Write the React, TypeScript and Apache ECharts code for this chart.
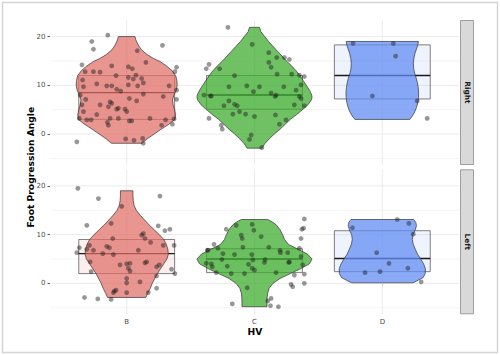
import React, { useEffect, useRef } from 'react';
import * as echarts from 'echarts';

const categories = ['B', 'C', 'D'];
const facets = ['Right', 'Left'];
const yTickValues = [0, 10, 20];
const yGridValues = [-5, 0, 5, 10, 15, 20];
const xTickValues = [1, 2, 3];

const violinFills = ['rgba(225,110,102,0.72)', 'rgba(63,172,48,0.75)', 'rgba(99,140,243,0.75)'];
const boxFills = ['rgba(225,110,102,0.1)', 'rgba(63,172,48,0.1)', 'rgba(99,140,243,0.1)'];

// box stats: [q1, median, q3]
const boxRight = [
  [3.0, 8.5, 12.0],
  [5.1, 8.0, 12.0],
  [7.2, 12.0, 18.3],
];
const boxLeft = [
  [2.0, 6.1, 9.0],
  [2.2, 5.0, 7.1],
  [2.4, 5.1, 10.8],
];

// violin profiles: [value, half width in category units]
const violinRightB = [
  [20.0, 0.065], [19.3, 0.072], [18.3, 0.09], [17.3, 0.115], [16.3, 0.16], [15.5, 0.21],
  [14.9, 0.26], [14.0, 0.31], [13.0, 0.355], [12.0, 0.383], [11.0, 0.393], [10.0, 0.395],
  [9.0, 0.388], [8.0, 0.37], [7.0, 0.358], [6.0, 0.363], [5.0, 0.375], [4.0, 0.383],
  [3.0, 0.378], [2.0, 0.33], [1.0, 0.27], [0.0, 0.215], [-1.0, 0.16], [-1.9, 0.12],
];
const violinRightC = [
  [21.9, 0.039], [21.0, 0.05], [20.0, 0.08], [19.0, 0.11], [18.0, 0.145], [17.0, 0.18],
  [16.0, 0.215], [15.0, 0.25], [14.0, 0.29], [13.0, 0.325], [12.0, 0.355], [11.0, 0.38],
  [10.0, 0.405], [9.0, 0.43], [8.0, 0.448], [7.5, 0.45], [7.0, 0.445], [6.0, 0.418],
  [5.0, 0.375], [4.0, 0.33], [3.0, 0.28], [2.0, 0.24], [1.0, 0.2], [0.0, 0.155],
  [-1.0, 0.115], [-2.0, 0.08], [-2.9, 0.058],
];
const violinRightD = [
  [19.0, 0.283], [18.3, 0.278], [17.5, 0.268], [16.5, 0.255], [15.5, 0.247], [14.5, 0.243],
  [13.5, 0.245], [12.5, 0.253], [11.5, 0.265], [10.5, 0.275], [9.5, 0.281], [8.5, 0.284],
  [7.5, 0.283], [6.5, 0.278], [5.5, 0.268], [4.5, 0.253], [3.7, 0.235], [3.0, 0.215],
];
const violinLeftB = [
  [19.0, 0.049], [18.0, 0.049], [17.0, 0.051], [16.0, 0.058], [15.0, 0.075], [14.0, 0.105],
  [13.0, 0.14], [12.0, 0.175], [11.0, 0.215], [10.0, 0.255], [9.0, 0.29], [8.0, 0.31],
  [7.0, 0.322], [6.0, 0.326], [5.0, 0.315], [4.0, 0.29], [3.0, 0.265], [2.0, 0.24],
  [1.0, 0.22], [0.0, 0.2], [-1.0, 0.185], [-2.0, 0.165], [-2.9, 0.15],
];
const violinLeftC = [
  [13.1, 0.104], [12.5, 0.145], [12.0, 0.17], [11.0, 0.2], [10.0, 0.22], [9.0, 0.235],
  [8.0, 0.265], [7.0, 0.34], [6.0, 0.415], [5.0, 0.45], [4.0, 0.43], [3.0, 0.36],
  [2.0, 0.28], [1.0, 0.2], [0.0, 0.145], [-1.0, 0.115], [-2.0, 0.103], [-3.0, 0.099],
  [-4.0, 0.098], [-4.8, 0.098],
];
const violinLeftD = [
  [13.1, 0.245], [12.5, 0.262], [11.8, 0.267], [11.0, 0.258], [10.0, 0.24], [9.0, 0.235],
  [8.0, 0.242], [7.0, 0.258], [6.0, 0.275], [5.0, 0.3], [4.0, 0.323], [3.0, 0.337],
  [2.0, 0.336], [1.2, 0.32], [0.5, 0.27], [0.1, 0.24],
];

// jittered points: [x offset from category, value]
const pointsRightB = [
  [-0.148, 20.3], [-0.273, 19.0], [-0.26, 17.4], [0.28, 18.2], [-0.35, 14.2], [-0.117, 14.0],
  [0.013, 13.8], [0.044, 13.4], [0.15, 14.7], [0.083, 17.1], [0.39, 13.7], [0.377, 12.8],
  [-0.325, 12.8], [-0.26, 12.8], [-0.208, 12.7], [-0.083, 12.0], [0.013, 11.6], [0.073, 12.1],
  [0.052, 11.3], [0.117, 11.4], [-0.345, 11.1], [-0.338, 9.7], [-0.234, 10.3], [-0.156, 9.9],
  [-0.117, 9.9], [-0.047, 8.8], [-0.078, 9.2], [0.013, 10.1], [0.086, 9.9], [0.13, 10.5],
  [0.332, 9.9], [0.39, 9.0], [0.13, 8.2], [-0.364, 8.0], [-0.32, 7.1], [-0.13, 6.6],
  [-0.117, 6.3], [0.021, 7.3], [0.078, 6.8], [0.286, 7.7], [0.39, 7.1], [-0.35, 6.0],
  [-0.208, 6.0], [-0.065, 5.3], [-0.078, 5.1], [-0.013, 5.1], [-0.143, 5.6], [-0.338, 4.6],
  [-0.234, 4.0], [-0.13, 3.2], [-0.065, 3.2], [0.0, 4.6], [0.039, 2.7], [-0.371, 3.2],
  [-0.312, 2.9], [-0.278, 2.9], [0.182, 3.2], [0.304, 2.9], [0.371, 3.1], [-0.151, 2.4],
  [-0.143, 1.8], [0.273, 1.8], [0.358, 2.0], [-0.008, -1.0], [0.057, -1.3], [0.125, -0.9],
  [0.13, -1.9], [-0.39, -1.6], [0.021, 2.7],
];
const pointsRightC = [
  [-0.208, 21.9], [-0.018, 18.4], [0.112, 16.7], [0.174, 15.7], [0.234, 15.7], [0.273, 15.3],
  [0.112, 14.7], [-0.356, 14.3], [-0.377, 13.4], [-0.273, 13.4], [0.13, 13.7], [-0.156, 12.0],
  [0.177, 12.3], [0.291, 12.3], [0.351, 12.1], [0.39, 11.8], [-0.2, 9.7], [-0.06, 9.9],
  [0.039, 9.7], [0.229, 9.7], [0.325, 9.0], [0.364, 10.1], [-0.008, 8.7], [-0.395, 8.0],
  [-0.345, 7.8], [-0.338, 7.8], [0.13, 8.4], [0.169, 8.0], [0.161, 7.7], [0.351, 7.7],
  [0.364, 7.3], [-0.156, 6.1], [-0.135, 5.8], [-0.239, 5.8], [-0.2, 6.8], [-0.117, 4.6],
  [-0.07, 4.1], [-0.169, 4.1], [0.0, 3.6], [0.164, 3.9], [0.312, 6.0], [0.39, 5.8],
  [-0.356, 3.2], [0.247, 2.9], [0.195, 2.0], [-0.26, 1.8], [-0.252, 1.0], [-0.026, -0.2],
  [-0.039, -1.1], [0.057, -2.8],
];
const pointsRightD = [
  [-0.229, 18.6], [0.086, 18.6], [0.104, 16.0], [-0.078, 7.8], [0.273, 6.8], [0.351, 3.2],
];
const pointsLeftB = [
  [-0.382, 19.5], [-0.221, 17.4], [0.26, 17.9], [-0.039, 15.8], [-0.312, 11.9], [-0.122, 12.3],
  [0.247, 11.8], [0.338, 11.1], [0.299, 10.8], [0.117, 9.9], [0.13, 10.2], [0.143, 9.2],
  [0.187, 8.4], [-0.109, 9.2], [-0.156, 7.6], [-0.135, 7.3], [-0.291, 7.8], [-0.371, 7.3],
  [-0.312, 7.0], [-0.39, 6.3], [-0.26, 6.8], [-0.187, 6.1], [0.091, 6.8], [-0.104, 5.9],
  [0.286, 7.8], [0.371, 7.8], [-0.286, 4.4], [0.026, 4.1], [0.156, 4.4], [0.143, 4.2],
  [-0.052, 3.8], [0.0, 4.0], [0.013, 3.1], [0.026, 2.5], [0.234, 3.4], [0.255, 3.8],
  [0.351, 2.9], [0.377, 2.0], [0.234, 1.5], [-0.278, 2.4], [0.0, 1.0], [0.0, 0.1],
  [0.104, 0.3], [0.234, -1.0], [0.169, -1.9], [-0.104, -1.9], [-0.083, -1.4], [-0.096, -1.6],
  [0.0, -1.9], [-0.33, -2.9], [-0.226, -3.2], [-0.122, -3.3],
];
const pointsLeftC = [
  [-0.018, 12.1], [-0.221, 11.1], [-0.143, 11.9], [0.39, 13.2], [0.384, 11.3], [0.371, 11.1],
  [0.364, 9.2], [-0.104, 9.9], [-0.096, 9.2], [0.052, 9.6], [-0.005, 10.9], [-0.317, 8.0],
  [-0.364, 6.8], [-0.286, 7.2], [-0.247, 6.1], [-0.156, 5.9], [-0.091, 7.4], [-0.021, 5.9],
  [0.112, 7.4], [0.2, 6.8], [0.203, 6.3], [0.26, 6.3], [0.351, 7.2], [0.364, 5.5],
  [-0.013, 4.8], [0.078, 4.3], [0.273, 4.4], [0.268, 4.3], [-0.377, 4.1], [-0.338, 4.0],
  [-0.33, 3.4], [-0.255, 4.9], [-0.213, 3.5], [-0.047, 3.9], [-0.018, 3.1], [0.0, 2.7],
  [0.083, 4.9], [0.377, 3.8], [-0.299, 2.2], [-0.182, 2.0], [-0.078, 2.0], [0.169, 2.2],
  [0.312, 1.7], [0.39, 1.9], [0.286, -0.2], [0.299, -0.7], [0.39, 0.0], [-0.057, -0.9],
  [0.104, -3.6], [0.125, -4.6], [0.187, -4.8], [-0.174, -4.2], [0.13, -3.1], [-0.369, 6.8],
];
const pointsLeftD = [
  [-0.234, 11.4], [0.117, 13.1], [0.208, 12.3], [0.242, 10.1], [-0.044, 6.3], [0.052, 4.1],
  [0.2, 3.1], [-0.135, 2.2], [-0.018, 2.4], [0.304, 0.3],
];

const violinsByFacet = [
  [violinRightB, violinRightC, violinRightD],
  [violinLeftB, violinLeftC, violinLeftD],
];
const boxesByFacet = [boxRight, boxLeft];
const pointsByFacet = [
  [pointsRightB, pointsRightC, pointsRightD],
  [pointsLeftB, pointsLeftC, pointsLeftD],
];

const FONT = 'DejaVu Sans';
const PANEL_LEFT = 50;
const PANEL_WIDTH = 409;
const PANEL_HEIGHT = 145;
const PANEL_TOPS = [20, 169.3];
const Y_MIN = -6.355;
const Y_MAX = 23.405;
const X_MIN = 0.4;
const X_MAX = 3.6;
const BOX_HALF = 0.375;

function buildOption() {
  const grid = PANEL_TOPS.map((top) => ({ left: PANEL_LEFT, top, width: PANEL_WIDTH, height: PANEL_HEIGHT }));
  const xAxis = PANEL_TOPS.map((_, f) => {
    const bottom = f === PANEL_TOPS.length - 1;
    return {
      type: 'value',
      gridIndex: f,
      min: X_MIN,
      max: X_MAX,
      axisLine: { show: false },
      splitLine: { show: false },
      axisTick: {
        show: bottom,
        customValues: xTickValues,
        length: 3,
        lineStyle: { color: '#333333', width: 0.8 },
      },
      axisLabel: {
        show: bottom,
        customValues: xTickValues,
        formatter: (v: number) => categories[Math.round(v) - 1] ?? '',
        fontSize: 7,
        color: '#4d4d4d',
        margin: 4,
        fontFamily: FONT,
      },
    };
  });
  const yAxis = PANEL_TOPS.map((_, f) => ({
    type: 'value',
    gridIndex: f,
    min: Y_MIN,
    max: Y_MAX,
    axisLine: { show: false },
    splitLine: { show: false },
    axisTick: {
      show: true,
      customValues: yTickValues,
      length: 2.5,
      lineStyle: { color: '#333333', width: 0.8 },
    },
    axisLabel: {
      customValues: yTickValues,
      fontSize: 7,
      color: '#4d4d4d',
      margin: 4.5,
      fontFamily: FONT,
    },
  }));

  const series: any[] = [];
  PANEL_TOPS.forEach((_, f) => {
    const gridData = [
      ...xTickValues.map((x) => [x, 0, 0]),
      ...yGridValues.map((v) => [1, v, 1]),
    ];
    series.push({
      type: 'custom',
      xAxisIndex: f,
      yAxisIndex: f,
      z: 1,
      silent: true,
      data: gridData,
      renderItem: (params: any, api: any) => {
        const cs = params.coordSys;
        const kind = api.value(2);
        if (kind === 0) {
          const p = api.coord([api.value(0), 0]);
          return {
            type: 'line',
            shape: { x1: p[0], y1: cs.y, x2: p[0], y2: cs.y + cs.height },
            style: { stroke: '#ebebeb', lineWidth: 1 },
          };
        }
        const v = api.value(1);
        const p = api.coord([1, v]);
        const major = v % 10 === 0;
        return {
          type: 'line',
          shape: { x1: cs.x, y1: p[1], x2: cs.x + cs.width, y2: p[1] },
          style: { stroke: major ? '#ebebeb' : '#f1f1f1', lineWidth: major ? 1 : 0.8 },
        };
      },
    });

    const boxes = boxesByFacet[f];
    series.push({
      type: 'custom',
      xAxisIndex: f,
      yAxisIndex: f,
      z: 2,
      silent: true,
      data: boxes.map((b, i) => [i + 1, b[0], b[1], b[2], i]),
      renderItem: (_p: any, api: any) => {
        const cx = api.value(0);
        const i = api.value(4);
        const tl = api.coord([cx - BOX_HALF, api.value(3)]);
        const br = api.coord([cx + BOX_HALF, api.value(1)]);
        const ml = api.coord([cx - BOX_HALF, api.value(2)]);
        const mr = api.coord([cx + BOX_HALF, api.value(2)]);
        return {
          type: 'group',
          children: [
            {
              type: 'rect',
              shape: { x: tl[0], y: tl[1], width: br[0] - tl[0], height: br[1] - tl[1] },
              style: { fill: boxFills[i], stroke: '#4a4a4a', lineWidth: 0.7 },
            },
            {
              type: 'line',
              shape: { x1: ml[0], y1: ml[1], x2: mr[0], y2: mr[1] },
              style: { stroke: '#1a1a1a', lineWidth: 1.4 },
            },
          ],
        };
      },
    });

    const violins = violinsByFacet[f];
    series.push({
      type: 'custom',
      xAxisIndex: f,
      yAxisIndex: f,
      z: 3,
      silent: true,
      data: violins.map((_v, i) => [i + 1, 0, i]),
      renderItem: (_p: any, api: any) => {
        const cx = api.value(0);
        const i = api.value(2);
        const prof = violins[i];
        const right = prof.map(([v, hw]) => api.coord([cx + hw, v]));
        const left = prof
          .slice()
          .reverse()
          .map(([v, hw]) => api.coord([cx - hw, v]));
        return {
          type: 'polygon',
          shape: { points: right.concat(left) },
          style: { fill: violinFills[i], stroke: '#333333', lineWidth: 0.7 },
        };
      },
    });

    const pts = pointsByFacet[f];
    series.push({
      type: 'scatter',
      xAxisIndex: f,
      yAxisIndex: f,
      z: 4,
      silent: true,
      symbol: 'circle',
      symbolSize: 4.8,
      itemStyle: { color: 'rgba(30,30,30,0.58)' },
      data: pts.flatMap((group, i) => group.map(([dx, v]) => [i + 1 + dx, v])),
    });
  });

  const graphic: any[] = [
    {
      type: 'rect',
      shape: { x: 2.5, y: 2.5, width: 495, height: 350 },
      style: { fill: 'none', stroke: '#d4d4d4', lineWidth: 1.5 },
      silent: true,
      z: 0,
    },
    {
      type: 'text',
      x: 30,
      y: (PANEL_TOPS[0] + PANEL_TOPS[1] + PANEL_HEIGHT) / 2,
      rotation: Math.PI / 2,
      style: {
        text: 'Foot Progression Angle',
        fontFamily: FONT,
        fontWeight: 'bold',
        fontSize: 9.2,
        fill: '#000000',
        align: 'center',
        verticalAlign: 'middle',
      },
    },
    {
      type: 'text',
      x: PANEL_LEFT + PANEL_WIDTH / 2 + 0.5,
      y: 331,
      style: {
        text: 'HV',
        fontFamily: FONT,
        fontWeight: 'bold',
        fontSize: 9.2,
        fill: '#000000',
        align: 'center',
        verticalAlign: 'middle',
      },
    },
  ];
  PANEL_TOPS.forEach((top, f) => {
    graphic.push({
      type: 'rect',
      shape: { x: 460.5, y: top + 0.5, width: 13, height: PANEL_HEIGHT - 1 },
      style: { fill: '#d9d9d9', stroke: '#9e9e9e', lineWidth: 1 },
      silent: true,
    });
    graphic.push({
      type: 'text',
      x: 467,
      y: top + PANEL_HEIGHT / 2,
      rotation: -Math.PI / 2,
      style: {
        text: facets[f],
        fontFamily: FONT,
        fontWeight: 'bold',
        fontSize: 7.4,
        fill: '#1a1a1a',
        align: 'center',
        verticalAlign: 'middle',
      },
    });
  });

  return {
    animation: false,
    backgroundColor: '#ffffff',
    grid,
    xAxis,
    yAxis,
    series,
    graphic,
  };
}

export default function App() {
  const ref = useRef<HTMLDivElement>(null);
  useEffect(() => {
    document.body.style.margin = '0';
    const chart = echarts.init(ref.current!, undefined, { renderer: 'svg' });
    chart.setOption(buildOption() as any);
    return () => chart.dispose();
  }, []);
  return <div ref={ref} style={{ width: 500, height: 355 }} />;
}
